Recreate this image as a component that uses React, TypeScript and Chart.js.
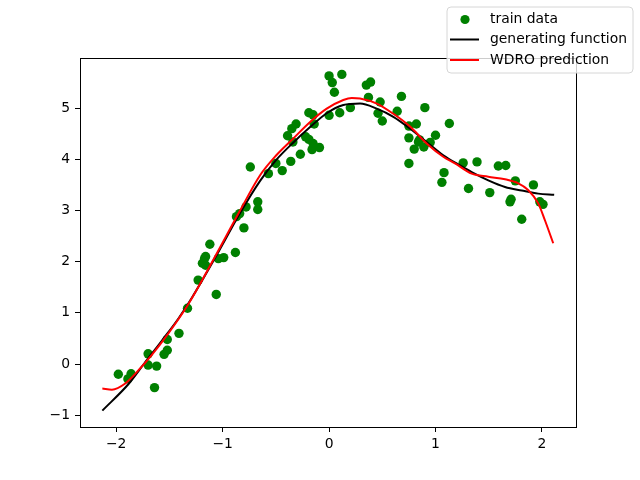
import React, { useEffect, useRef } from "react";
import { Chart, registerables } from "chart.js";
Chart.register(...registerables);

const trainX = [-1.98, -1.86, -1.89, -1.70, -1.70, -1.62, -1.64, -1.55, -1.52, -1.52, -1.41, -1.33, -1.23, -1.06, -1.17, -1.19, -1.16, -1.04, -0.99, -0.88, -1.12, -1.16, -0.80, -0.87, -0.84, -0.78, -0.67, -0.67, -0.74, -0.57, -0.50, -0.44, -0.36, -0.27, -0.16, -0.09, -0.34, -0.39, -0.35, -0.31, -0.22, -0.19, -0.15, -0.19, -0.14, 0.00, 0.10, 0.20, 0.00, 0.12, 0.03, 0.05, -0.15, 0.35, 0.39, 0.37, 0.48, 0.46, 0.50, 0.64, 0.68, 0.90, 0.75, 0.82, 0.75, 0.84, 0.89, 0.80, 0.95, 1.00, 1.13, 0.75, 1.08, 1.06, 1.26, 1.39, 1.31, 1.51, 1.59, 1.66, 1.75, 1.92, 1.71, 1.70, 1.98, 2.01, 1.81, 0.85];
const trainY = [-0.20, -0.19, -0.29, 0.20, -0.02, -0.04, -0.46, 0.19, 0.27, 0.48, 0.60, 1.09, 1.64, 1.36, 2.06, 1.97, 1.93, 2.06, 2.08, 2.18, 2.34, 2.10, 2.66, 2.88, 2.94, 3.07, 3.17, 3.02, 3.85, 3.72, 3.92, 3.78, 3.96, 4.10, 4.19, 4.23, 4.34, 4.46, 4.60, 4.69, 4.44, 4.39, 4.31, 4.91, 4.69, 4.86, 4.91, 5.01, 5.63, 5.66, 5.50, 5.31, 4.87, 5.45, 5.51, 5.21, 5.12, 4.90, 4.75, 4.94, 5.23, 5.01, 4.65, 4.69, 4.42, 4.34, 4.24, 4.20, 4.33, 4.47, 4.70, 3.92, 3.74, 3.55, 3.93, 3.95, 3.43, 3.35, 3.87, 3.88, 3.58, 3.50, 3.22, 3.17, 3.17, 3.12, 2.83, 4.38];

const genX = [-2.13, -1.88, -1.73, -1.57, -1.415, -1.29, -1.05, -0.836, -0.648, -0.5, -0.335, -0.178, -0.022, 0.134, 0.291, 0.448, 0.604, 0.761, 0.917, 1.073, 1.23, 1.34, 1.496, 1.653, 1.81, 1.965, 2.115];
const genY = [-0.91, -0.38, 0.03, 0.46, 0.89, 1.29, 2.15, 2.95, 3.58, 3.98, 4.33, 4.63, 4.90, 5.06, 5.09, 4.99, 4.83, 4.60, 4.34, 4.08, 3.88, 3.75, 3.59, 3.46, 3.39, 3.33, 3.31];

const predX = [-2.13, -2.04, -1.915, -1.79, -1.665, -1.51, -1.32, -1.05, -0.836, -0.648, -0.5, -0.335, -0.178, -0.022, 0.134, 0.213, 0.291, 0.448, 0.604, 0.761, 0.917, 1.073, 1.183, 1.34, 1.496, 1.653, 1.778, 1.87, 1.965, 2.028, 2.106];
const predY = [-0.48, -0.50, -0.38, -0.12, 0.18, 0.60, 1.18, 2.18, 3.00, 3.69, 4.07, 4.41, 4.73, 4.99, 5.16, 5.20, 5.19, 5.09, 4.89, 4.64, 4.31, 4.05, 3.92, 3.72, 3.66, 3.61, 3.53, 3.40, 3.14, 2.81, 2.36];

const xTicks = [-2, -1, 0, 1, 2];
const yTicks = [-1, 0, 1, 2, 3, 4, 5];
const seriesLabels = ["train data", "generating function", "WDRO prediction"];
const colors = ["#008000", "#000000", "#ff0000"];

const FONT = "DejaVu Sans";
const fmt = (v: number) => (v < 0 ? "\u2212" + Math.abs(v) : String(v));

const boxPlugin = {
  id: "mplBox",
  afterDraw(chart: any) {
    const { ctx, chartArea: a } = chart;
    ctx.save();
    ctx.strokeStyle = "#000";
    ctx.lineWidth = 1;
    ctx.strokeRect(Math.round(a.left) + 0.5, Math.round(a.top) + 0.5, Math.round(a.right - a.left), Math.round(a.bottom - a.top));
    ctx.restore();

    // legend
    const lx = 447, ly = 7, lw = 186, lh = 66, r = 4;
    ctx.save();
    ctx.beginPath();
    ctx.moveTo(lx + r, ly);
    ctx.lineTo(lx + lw - r, ly);
    ctx.quadraticCurveTo(lx + lw, ly, lx + lw, ly + r);
    ctx.lineTo(lx + lw, ly + lh - r);
    ctx.quadraticCurveTo(lx + lw, ly + lh, lx + lw - r, ly + lh);
    ctx.lineTo(lx + r, ly + lh);
    ctx.quadraticCurveTo(lx, ly + lh, lx, ly + lh - r);
    ctx.lineTo(lx, ly + r);
    ctx.quadraticCurveTo(lx, ly, lx + r, ly);
    ctx.closePath();
    ctx.fillStyle = "rgba(255,255,255,0.8)";
    ctx.fill();
    ctx.strokeStyle = "#d6d6d6";
    ctx.lineWidth = 1;
    ctx.stroke();
    const rows = [19.5, 39.5, 60];
    chart.data.datasets.forEach((ds: any, i: number) => {
      const y = rows[i];
      if (i === 0) {
        ctx.beginPath();
        ctx.arc(465, y, 4.6, 0, Math.PI * 2);
        ctx.fillStyle = ds.backgroundColor;
        ctx.fill();
      } else {
        ctx.beginPath();
        ctx.moveTo(450, y);
        ctx.lineTo(479, y);
        ctx.strokeStyle = ds.borderColor;
        ctx.lineWidth = 2;
        ctx.stroke();
      }
      ctx.fillStyle = "#000";
      ctx.font = `13.9px "${FONT}"`;
      ctx.textBaseline = "middle";
      ctx.textAlign = "left";
      ctx.fillText(ds.label, 490, y);
    });
    ctx.restore();
  },
};

export default function App() {
  const ref = useRef<HTMLCanvasElement | null>(null);
  useEffect(() => {
    if (!ref.current) return;
    const chart = new Chart(ref.current, {
      type: "scatter",
      data: {
        datasets: [
          {
            label: seriesLabels[0],
            data: trainX.map((x, i) => ({ x, y: trainY[i] })),
            backgroundColor: colors[0],
            borderColor: colors[0],
            borderWidth: 0,
            pointRadius: 4.7,
            order: 3,
          },
          {
            label: seriesLabels[1],
            data: genX.map((x, i) => ({ x, y: genY[i] })),
            showLine: true,
            borderColor: colors[1],
            backgroundColor: colors[1],
            borderWidth: 2,
            pointRadius: 0,
            cubicInterpolationMode: "monotone",
            order: 2,
          },
          {
            label: seriesLabels[2],
            data: predX.map((x, i) => ({ x, y: predY[i] })),
            showLine: true,
            borderColor: colors[2],
            backgroundColor: colors[2],
            borderWidth: 2,
            pointRadius: 0,
            cubicInterpolationMode: "monotone",
            order: 1,
          },
        ] as any,
      },
      options: {
        animation: false,
        responsive: false,
        layout: { padding: { top: 58, right: 64, left: 0, bottom: 0 } },
        plugins: { legend: { display: false }, tooltip: { enabled: false } },
        scales: {
          x: {
            type: "linear",
            min: -2.34,
            max: 2.32,
            afterBuildTicks: (s: any) => { s.ticks = xTicks.map((v) => ({ value: v })); },
            afterFit: (s: any) => { s.height = 53; },
            grid: { drawOnChartArea: false, drawTicks: true, tickLength: 5, color: "#000", lineWidth: 1 },
            border: { display: false },
            ticks: { color: "#000", font: { family: FONT, size: 13.9 }, padding: 4, maxRotation: 0, callback: (v: any) => fmt(Number(v)) },
          },
          y: {
            type: "linear",
            min: -1.23,
            max: 5.98,
            afterBuildTicks: (s: any) => { s.ticks = yTicks.map((v) => ({ value: v })); },
            afterFit: (s: any) => { s.width = 80; },
            grid: { drawOnChartArea: false, drawTicks: true, tickLength: 5, color: "#000", lineWidth: 1 },
            border: { display: false },
            ticks: { color: "#000", font: { family: FONT, size: 13.9 }, padding: 5, callback: (v: any) => fmt(Number(v)) },
          },
        },
      } as any,
      plugins: [boxPlugin],
    });
    return () => chart.destroy();
  }, []);
  return (
    <div style={{ position: "absolute", left: 0, top: 0, width: 640, height: 480, background: "#fff" }}>
      <canvas ref={ref} width={640} height={480} />
    </div>
  );
}
